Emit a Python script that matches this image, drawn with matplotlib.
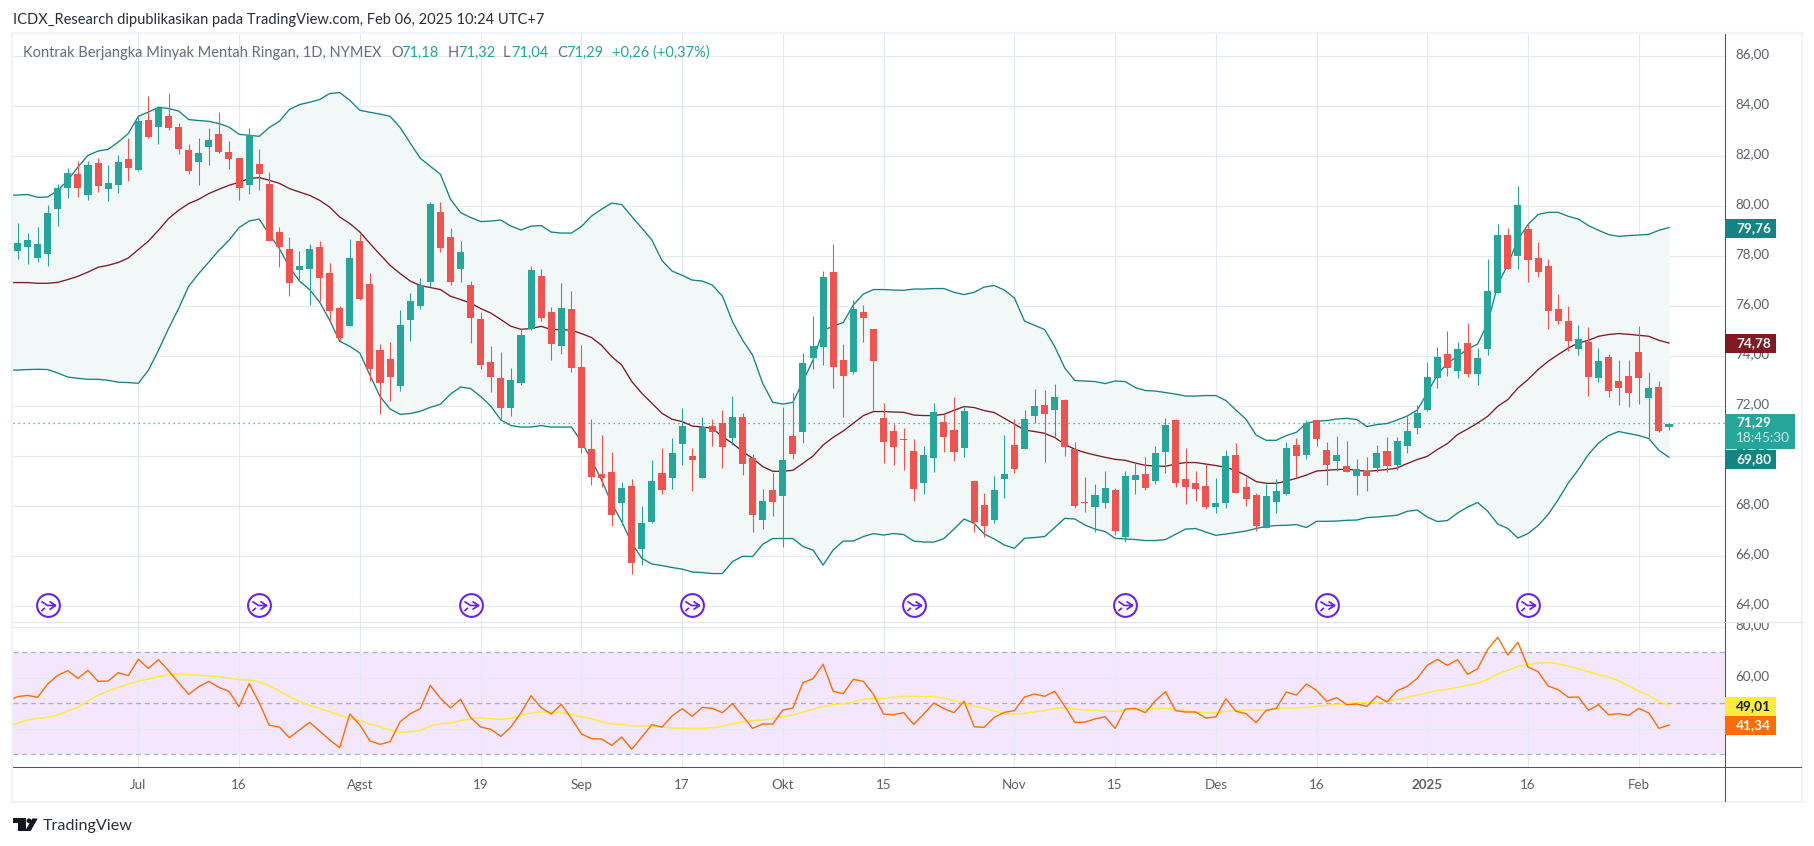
import numpy as np
import matplotlib
matplotlib.use("Agg")
import matplotlib.pyplot as plt
from matplotlib.collections import LineCollection
from matplotlib.patches import Rectangle, Polygon, Circle
from matplotlib.path import Path
from matplotlib.transforms import Bbox, ScaledTranslation

opens = [78.21,78.36,77.92,78.08,79.88,80.72,81.28,80.44,81.72,80.68,
80.84,81.88,81.44,83.44,83.16,83.60,83.16,82.24,81.76,82.36,
82.88,82.16,81.92,80.84,81.68,80.88,78.96,78.29,77.45,77.49,
78.37,77.33,75.93,75.21,78.61,76.89,74.25,73.89,72.81,75.45,
76.01,76.97,79.77,78.77,77.49,76.85,75.49,73.77,73.13,71.93,
72.93,75.09,77.21,75.77,74.41,75.89,73.57,70.29,69.29,69.37,
68.13,68.81,66.29,67.37,69.33,69.13,70.49,70.01,69.13,71.21,
71.33,70.73,71.57,69.93,67.45,68.65,68.41,70.81,70.97,73.93,
74.37,77.37,73.85,73.37,75.77,75.09,71.53,71.01,70.69,70.21,
68.93,69.93,71.37,71.05,70.33,69.01,68.05,67.45,69.09,70.45,
70.29,71.61,72.05,71.85,72.25,70.29,68.17,67.97,68.13,68.65,
66.77,69.05,69.29,69.01,70.17,71.45,69.09,68.93,68.81,67.97,
68.13,70.05,68.77,68.45,67.13,68.17,68.49,70.45,70.05,71.45,
70.25,69.81,69.61,69.21,69.41,69.53,70.21,69.65,70.41,71.13,
71.87,73.15,74.11,73.43,74.55,73.31,74.31,76.55,78.87,78.03,
79.11,77.95,77.63,75.91,75.43,74.31,74.59,73.15,73.99,73.03,
73.23,74.19,72.35,72.79,71.18]
closes = [78.52,78.64,78.48,79.72,80.72,81.32,80.72,81.64,80.80,80.92,
81.76,81.52,83.40,82.76,83.92,83.12,82.28,81.40,82.12,82.64,
82.16,81.88,80.72,82.84,81.28,78.60,78.36,76.93,77.61,78.29,
77.13,75.81,74.73,77.93,76.29,73.49,72.93,73.17,75.25,76.21,
76.85,80.09,78.33,76.97,78.17,75.53,73.65,73.17,71.93,73.05,
74.85,77.45,75.53,74.49,75.93,73.53,70.33,69.17,69.13,67.65,
68.73,65.73,67.33,69.01,68.65,70.13,71.21,69.85,71.17,70.97,
70.37,71.57,69.69,67.65,68.21,68.17,69.85,70.09,73.73,74.41,
77.17,73.57,73.21,75.89,75.53,73.81,70.57,70.37,70.65,68.69,
70.05,71.77,70.77,70.17,71.81,67.37,67.21,68.65,69.29,69.49,
71.49,72.01,71.69,72.37,70.37,68.01,68.13,68.45,68.73,67.01,
69.21,69.25,68.73,70.13,71.25,68.93,68.77,68.69,67.97,68.13,
70.01,68.53,68.29,67.21,68.41,68.61,70.33,70.01,71.33,70.69,
69.65,70.05,69.37,69.49,69.21,70.13,69.61,70.61,71.01,71.73,
73.19,73.99,73.55,74.31,73.31,73.95,76.63,78.87,77.51,80.07,
77.87,77.39,75.83,75.43,74.63,74.71,73.19,73.83,72.63,72.75,
72.55,73.15,72.75,71.03,71.29]
highs = [79.32,78.92,79.16,80.04,80.88,81.52,81.80,81.80,81.92,81.64,
82.04,82.72,83.57,84.40,83.96,84.52,83.32,82.48,82.72,83.12,
83.76,82.60,81.92,83.12,82.28,81.36,79.16,78.77,78.21,78.49,
78.61,77.73,76.01,78.69,78.89,77.33,74.49,74.57,75.85,76.53,
77.13,80.17,80.17,79.13,78.61,77.01,75.77,74.41,74.17,73.53,
75.09,77.61,77.49,75.97,76.93,76.61,74.45,71.49,70.85,70.17,
68.97,69.09,68.01,69.85,70.33,70.73,71.93,70.33,71.57,71.49,
71.85,72.41,71.73,70.09,68.69,69.33,71.97,72.53,74.13,75.61,
77.41,78.49,74.49,76.25,76.05,75.09,72.13,71.29,71.13,70.69,
70.41,72.13,71.69,72.37,71.97,69.01,68.53,69.21,70.85,71.49,
71.85,72.69,72.65,72.89,72.29,70.57,69.17,68.89,69.41,68.73,
69.41,69.77,69.97,70.41,71.53,71.49,70.33,69.41,69.69,69.13,
70.25,70.53,69.17,68.53,68.89,69.09,70.57,70.73,71.45,71.45,
70.57,70.81,70.61,69.89,69.97,70.45,70.77,70.77,71.61,72.05,
73.79,74.39,75.03,74.59,75.35,74.35,77.91,79.31,79.15,80.83,
79.31,78.59,77.91,76.51,76.03,75.27,75.19,74.35,74.11,73.87,
73.87,75.23,73.39,73.03,71.32]
lows = [77.88,77.68,77.76,77.60,79.20,80.32,80.36,80.24,80.56,80.20,
80.52,81.00,81.40,82.72,82.48,83.04,82.08,81.28,80.84,81.64,
82.12,81.48,80.24,80.48,80.64,78.60,77.56,76.41,77.05,76.05,
76.21,75.37,74.57,75.21,76.25,73.01,71.69,72.21,72.61,74.61,
75.89,76.77,78.17,76.85,76.97,74.53,73.49,72.57,71.49,71.61,
72.85,75.05,75.41,73.85,74.09,73.37,70.13,68.85,68.77,67.21,
67.25,65.29,65.65,67.33,68.49,68.69,69.65,68.61,69.13,70.41,
69.53,70.45,69.25,66.97,67.09,67.61,66.37,69.89,70.53,73.49,
73.65,72.73,71.57,73.29,74.57,71.85,69.73,69.65,69.45,68.21,
68.49,69.37,70.17,69.81,69.97,66.97,66.77,67.33,68.33,69.33,
70.29,71.33,69.77,70.73,70.01,67.93,67.77,66.97,67.93,66.85,
66.57,68.49,68.65,68.89,69.33,68.77,68.09,68.21,67.89,67.73,
67.93,68.53,68.01,67.01,67.13,67.73,68.45,69.17,69.89,70.41,
68.85,69.41,69.37,68.45,68.61,69.37,69.37,69.45,70.13,70.89,
71.83,72.75,73.23,73.15,73.19,72.87,74.07,76.55,77.51,77.51,
76.99,77.19,75.11,75.31,74.23,74.07,72.43,72.99,72.39,72.07,
71.99,72.11,70.67,70.99,71.04]

# Bollinger bands: first value belongs to the day before the left edge of the chart
bb_upper = [80.44,80.45,80.47,80.36,80.37,80.64,81.04,81.57,82.04,82.21,82.28,
82.57,82.91,83.60,83.77,83.96,83.91,83.81,83.47,83.43,83.40,
83.31,83.17,82.88,82.84,82.80,83.15,83.40,83.87,84.07,84.16,
84.27,84.51,84.55,84.24,83.84,83.76,83.69,83.60,83.15,82.53,
81.92,81.60,81.28,80.28,79.75,79.55,79.39,79.41,79.45,79.21,
79.05,79.21,79.23,78.97,78.93,78.93,79.19,79.61,79.88,80.13,
80.07,79.59,79.13,78.65,77.83,77.41,77.24,77.05,77.01,76.85,
76.41,75.39,74.65,74.05,72.92,72.16,72.09,72.16,73.00,73.85,
75.03,75.21,75.35,76.05,76.49,76.67,76.67,76.65,76.64,76.69,
76.69,76.71,76.71,76.56,76.47,76.56,76.77,76.83,76.65,76.33,
75.41,75.24,75.07,74.39,73.53,73.03,73.01,72.99,72.91,73.01,
72.99,72.75,72.63,72.61,72.55,72.49,72.41,72.41,72.43,72.43,
72.23,71.85,71.48,70.85,70.64,70.64,70.83,70.96,71.32,71.41,
71.43,71.49,71.52,71.47,71.19,71.27,71.31,71.45,71.61,71.85,
72.53,73.27,73.73,74.00,74.29,74.49,75.33,76.87,77.67,78.67,
79.27,79.67,79.76,79.76,79.60,79.49,79.23,79.04,78.87,78.80,
78.83,78.85,78.88,79.04,79.15]
bb_mid = [76.95,76.95,76.95,76.92,76.92,76.96,77.07,77.20,77.37,77.56,77.64,
77.75,77.93,78.27,78.61,79.04,79.51,79.84,80.11,80.28,80.51,
80.68,80.84,80.96,81.11,81.15,81.04,80.92,80.71,80.57,80.44,
80.24,79.97,79.57,79.31,78.97,78.51,78.07,77.64,77.31,77.01,
76.83,76.75,76.67,76.40,76.27,76.13,75.91,75.73,75.47,75.20,
75.08,75.11,75.20,75.07,75.07,75.04,74.91,74.75,74.44,73.99,
73.65,72.99,72.52,72.12,71.72,71.48,71.39,71.21,71.17,71.12,
70.79,70.52,70.19,69.92,69.59,69.40,69.40,69.44,69.72,70.01,
70.45,70.76,71.01,71.32,71.63,71.79,71.79,71.77,71.76,71.65,
71.63,71.63,71.68,71.84,71.99,71.95,71.83,71.75,71.52,71.29,
71.05,70.99,70.92,70.75,70.48,70.28,70.15,70.05,69.96,69.88,
69.84,69.73,69.64,69.61,69.60,69.69,69.75,69.75,69.69,69.63,
69.56,69.43,69.23,68.99,68.92,68.92,69.01,69.12,69.25,69.41,
69.44,69.47,69.48,69.44,69.40,69.43,69.47,69.53,69.71,69.87,
70.00,70.27,70.51,70.87,71.09,71.33,71.60,72.00,72.27,72.73,
73.07,73.47,73.80,74.07,74.33,74.53,74.64,74.80,74.87,74.91,
74.88,74.84,74.80,74.64,74.53]
bb_lower = [73.45,73.45,73.47,73.48,73.47,73.33,73.17,73.12,73.08,73.08,73.04,
72.96,72.95,72.92,73.44,74.24,75.11,75.91,76.80,77.31,77.77,
78.24,78.64,79.15,79.41,79.49,78.88,78.31,77.57,77.01,76.67,
76.17,75.44,74.60,74.40,74.13,73.24,72.39,71.89,71.68,71.71,
71.80,71.96,72.08,72.49,72.77,72.71,72.39,72.01,71.45,71.23,
71.17,71.17,71.23,71.17,71.17,71.17,70.59,69.85,69.05,68.12,
67.39,66.52,65.92,65.69,65.63,65.55,65.49,65.37,65.35,65.31,
65.31,65.79,66.00,65.99,66.48,66.71,66.71,66.71,66.39,66.25,
65.65,66.25,66.61,66.61,66.79,66.91,66.85,66.91,66.87,66.61,
66.57,66.57,66.71,67.09,67.49,67.32,66.89,66.69,66.45,66.32,
66.72,66.75,66.79,67.15,67.52,67.49,67.25,67.09,66.99,66.72,
66.69,66.67,66.63,66.63,66.67,66.88,67.09,67.11,66.97,66.84,
66.89,66.95,67.01,67.11,67.20,67.23,67.24,67.27,67.15,67.40,
67.40,67.41,67.44,67.45,67.55,67.57,67.61,67.64,67.80,67.85,
67.57,67.39,67.43,67.73,67.97,68.15,67.80,67.29,67.11,66.73,
66.91,67.23,67.67,68.27,68.93,69.47,70.07,70.53,70.83,70.99,
70.91,70.83,70.71,70.24,69.96]

rsi = [50.91,52.61,53.13,52.35,57.58,60.98,62.81,59.80,62.94,58.62,58.75,
62.02,60.85,67.25,63.72,67.12,62.81,58.10,53.53,56.53,58.62,
56.27,54.70,48.69,57.71,50.26,41.37,40.71,36.53,39.54,42.54,
39.15,35.62,32.61,45.81,41.50,35.22,33.92,34.96,42.81,45.94,
47.90,57.05,51.96,48.17,51.56,44.37,40.71,39.80,37.05,40.71,
46.34,52.98,48.30,45.81,49.60,44.11,37.97,36.14,36.01,33.53,
36.79,31.96,36.79,41.63,40.71,45.03,47.90,44.90,48.43,48.03,
46.34,49.87,45.03,40.19,41.89,41.89,47.38,48.17,58.10,59.67,
65.29,54.70,53.79,59.41,58.62,53.53,45.81,45.55,46.34,41.76,
45.81,50.13,47.90,46.34,50.78,40.84,40.58,44.51,46.47,47.12,
52.48,53.66,52.74,54.70,48.82,42.54,42.67,43.85,44.77,40.19,
47.77,48.03,46.34,51.04,54.57,47.12,46.60,46.60,44.24,44.64,
51.83,46.86,45.94,42.41,47.25,48.03,54.44,53.26,57.58,55.09,
50.78,52.22,49.47,49.73,48.82,52.87,50.52,54.96,56.66,59.80,
64.90,67.25,64.90,67.12,61.37,63.59,71.17,75.88,68.95,73.92,
64.24,62.41,56.79,55.35,52.35,52.48,47.25,49.47,45.55,45.94,
45.29,48.03,46.20,40.19,41.50]
rsi_ma = [40.58,42.15,43.46,44.11,44.51,45.42,47.00,48.43,50.91,53.13,54.83,
56.27,57.58,58.62,59.54,60.45,61.24,61.50,61.24,60.98,60.71,
60.45,59.93,59.28,59.15,58.49,56.92,54.83,52.61,50.78,49.21,
47.90,46.73,45.29,44.24,43.20,41.89,40.84,39.41,38.62,38.88,
39.41,41.11,42.02,42.28,43.20,43.85,44.37,43.98,43.72,44.11,
45.29,46.20,46.60,46.60,46.34,45.68,44.77,43.98,42.81,41.89,
41.76,41.11,41.11,41.11,40.71,40.32,40.19,40.19,40.19,40.45,
40.98,42.02,42.67,43.20,43.46,44.11,44.77,45.42,46.60,47.64,
48.82,49.47,49.87,50.52,51.56,51.96,51.96,52.35,52.74,52.74,
52.61,52.74,51.96,51.04,49.87,48.95,48.03,46.99,46.07,45.81,
46.07,46.73,47.12,48.03,48.30,47.77,47.38,47.25,46.86,46.86,
47.51,47.51,47.77,47.90,48.03,47.64,47.12,46.60,46.34,46.34,
46.86,47.12,47.38,47.38,47.51,47.90,48.17,48.17,48.43,48.82,
49.21,49.60,49.87,50.26,50.26,50.26,50.78,51.56,52.35,53.26,
54.05,55.09,55.49,56.27,57.05,57.84,59.41,61.50,62.94,64.51,
65.16,65.81,65.94,65.55,64.51,63.46,62.41,61.24,60.32,58.88,
56.79,54.83,53.13,50.65,49.34]

month_idx = [12,22,34,46,56,66,76,86,99,109,119,129,140,150,161]
month_labels = ["Jul","16","Agst","19","Sep","17","Okt","15","Nov","15","Des","16","2025","16","Feb"]
price_ticks = [64,66,68,70,72,74,76,78,80,82,84,86]
rsi_ticks = [40,60,80]
rsi_bands = [30,50,70]
event_idx = [3,24,45,67,89,110,130,150]
event_price = 64.05
last_close = 71.32

FONT = ["Lato", "DejaVu Sans"]
plt.rcParams["font.family"] = FONT
GREEN, RED = "#26a69a", "#ef5350"
TEAL, BROWN = "#138484", "#801922"
GRID = "#e3eaf2"
TXT = "#5d606b"
W, H = 1814, 846

def comma(v):
    return f"{v:.2f}".replace(".", ",")

fig = plt.figure(figsize=(W/100, H/100), dpi=100, facecolor="white")

def make_ax(l, t, r, b):
    return fig.add_axes([l/W, 1-b/H, (r-l)/W, (b-t)/H])

L, R = 13, 1724.5
ax = make_ax(L, 34, R, 622)
ar = make_ax(L, 623, R, 767.3)
# x: pixel = 17.5 + 10.07 * day index
xlim = ((L-17.5)/10.07, (R-17.5)/10.07)
ax.set_xlim(*xlim); ar.set_xlim(*xlim)
ax.set_ylim(80-(622-206.3)/25, 80+(206.3-34)/25)
ar.set_ylim(30-(767.3-754.33)/2.55, 70+(652.33-623)/2.55)

up3 = ScaledTranslation(0, 3/100, fig.dpi_scale_trans)
for a, ticks in ((ax, price_ticks), (ar, rsi_ticks)):
    a.set_yticks(ticks)
    a.set_yticklabels([comma(v) for v in ticks], fontsize=9.6, color=TXT)
    a.yaxis.tick_right()
    a.tick_params(axis="y", length=0, pad=7.5)
    a.set_xticks(month_idx)
    a.grid(True, color=GRID, lw=0.85, zorder=0)
    a.set_axisbelow(True)
    for s in a.spines.values():
        s.set_visible(False)
    a.patch.set_alpha(0)
    for lab in a.get_yticklabels():
        lab.set_transform(lab.get_transform() + up3)
ax.tick_params(axis="x", length=0, labelbottom=False)
ar.tick_params(axis="x", length=0, pad=8.5)
ar.set_xticklabels(month_labels, fontsize=9.6, color=TXT)
for lab, txt in zip(ar.get_xticklabels(), month_labels):
    if txt == "2025":
        lab.set_fontweight("bold")

x = np.arange(len(opens))
xl = np.arange(-1, len(opens))

# Bollinger bands
ax.fill_between(xl, bb_lower, bb_upper, color="#f2f8f8", lw=0, zorder=1)
ax.plot(xl, bb_upper, color=TEAL, lw=0.95, zorder=4)
ax.plot(xl, bb_lower, color=TEAL, lw=0.95, zorder=4)
ax.plot(xl, bb_mid, color=BROWN, lw=0.95, zorder=4)
ax.axhline(last_close, color=GREEN, lw=0.9, ls=(0, (1, 3)), zorder=2)

# Candles
o, c, hi, lo = map(np.array, (opens, closes, highs, lows))
cols = np.where(c >= o, GREEN, RED)
wicks = [[(i, lo[i]), (i, hi[i])] for i in x]
ax.add_collection(LineCollection(wicks, colors=cols, linewidths=0.78, zorder=5))
ax.bar(x, np.maximum(np.abs(c-o), 0.045), bottom=np.minimum(o, c), width=0.7,
       color=cols, lw=0, zorder=6)

# Expiry events
verts = [(-7,4),(-1,0),(7,0),(1,4),(7,0),(1,-4),(-7,-5.5),(-3.5,-2.3)]
codes = [Path.MOVETO,Path.LINETO,Path.LINETO,Path.MOVETO,Path.LINETO,Path.LINETO,
         Path.MOVETO,Path.LINETO]
glyph = Path(verts, codes)
evx = np.array(event_idx)
evy = np.full(len(evx), event_price)
ax.plot(evx, evy, ls="none", marker="o", ms=16.4, mfc="white", mec="#6b21f2", mew=1.5, zorder=7)
ax.plot(evx, evy, ls="none", marker=glyph, ms=10.2, mfc="none", mec="#6b21f2", mew=1.25, zorder=8)

# RSI pane
ar.axhspan(rsi_bands[0], rsi_bands[-1], color="#f4e7fd", lw=0, zorder=0.5)
for b in rsi_bands:
    ar.axhline(b, color="#b0aeb8", lw=0.9, ls=(0, (4, 3)), zorder=1.5)
ar.plot(xl, rsi_ma, color="#ffeb3b", lw=1.1, zorder=3)
ar.plot(xl, rsi, color="#ff6d00", lw=1.0, zorder=4)

# 80,00 is cut by the pane divider
for lab in ar.get_yticklabels():
    if lab.get_text() == "80,00":
        lab.set_clip_box(Bbox([[R, H-767], [W, H-622.7]]))
        lab.set_clip_on(True)

# Overlay in pixel coordinates: frame, labels, header, logo
ov = fig.add_axes([0, 0, 1, 1], zorder=10)
ov.set_xlim(0, W); ov.set_ylim(H, 0); ov.axis("off"); ov.patch.set_alpha(0)

FRAME = "#f0f3fa"
ov.add_patch(Rectangle((12, 33), 1789.5, 769, fc="none", ec=FRAME, lw=1.6))
ov.plot([13, R], [622.3, 622.3], color="#e0e7ef", lw=0.85)
ov.plot([13, 1801], [767.3, 767.3], color="#50535e", lw=0.75)
ov.plot([R, R], [34, 801.5], color="#50535e", lw=0.75)
ov.plot([R, 1801], [622.3, 622.3], color="#e0e3eb", lw=0.85)

def label(y0, y1, x1, bg, txt, fg="white"):
    ov.add_patch(Rectangle((R, y0), x1-R, y1-y0, fc=bg, ec="none", zorder=3))
    ov.text(1736, (y0+y1)/2, txt, color=fg, fontsize=9.8, va="center", ha="left", zorder=4,
            fontweight="bold")

label(219, 237.7, 1776, TEAL, comma(79.76))
label(334, 352.7, 1776, BROWN, comma(74.78))
label(450, 468.7, 1776, TEAL, comma(69.80))
label(414, 448.7, 1795, GREEN, "")
ov.text(1736, 422.5, comma(71.29), color="white", fontsize=9.8, va="center", zorder=5, fontweight="bold")
ov.text(1736, 438, "18:45:30", color="#c4ebe6", fontsize=9.8, va="center", zorder=5)
label(697, 715.7, 1776, "#ffeb3b", comma(49.01), fg="#131722")
label(716, 734.7, 1776, "#ff6d00", comma(41.34))

ov.text(13, 20, "ICDX_Research dipublikasikan pada TradingView.com, Feb 06, 2025 10:24 UTC+7",
        color="#2a2e39", fontsize=10.5, va="center")
ov.text(23, 53, "Kontrak Berjangka Minyak Mentah Ringan, 1D, NYMEX", color="#6a6d78",
        fontsize=10.5, va="center")
ohlc = [("O", opens[-1], 391.5, 401.7), ("H", highs[-1], 447.5, 458), ("L", lows[-1], 503, 511.7), ("C", closes[-1], 557, 566)]
for k, v, px, vx in ohlc:
    ov.text(px, 53, k, color="#6a6d78", fontsize=10.5, va="center")
    ov.text(vx, 53, comma(v), color=GREEN, fontsize=10.5, va="center")
ov.text(611.7, 53, "+0,26 (+0,37%)", color=GREEN, fontsize=10.5, va="center")

# TradingView logo
INK = "#131722"
ov.add_patch(Polygon([(13, 818.5), (25.7, 818.5), (25.7, 831), (18.3, 831), (18.3, 823.1), (13, 823.1)], fc=INK, ec="none"))
ov.add_patch(Circle((29, 820.8), 2.4, fc=INK, ec="none"))
ov.add_patch(Polygon([(32.3, 818.5), (37.7, 818.5), (30.7, 831), (25, 831)], fc=INK, ec="none"))
ov.text(42.5, 826, "TradingView", color="#2a2e39", fontsize=11.6, va="center")

fig.savefig("out.png", dpi=100, facecolor="white")
